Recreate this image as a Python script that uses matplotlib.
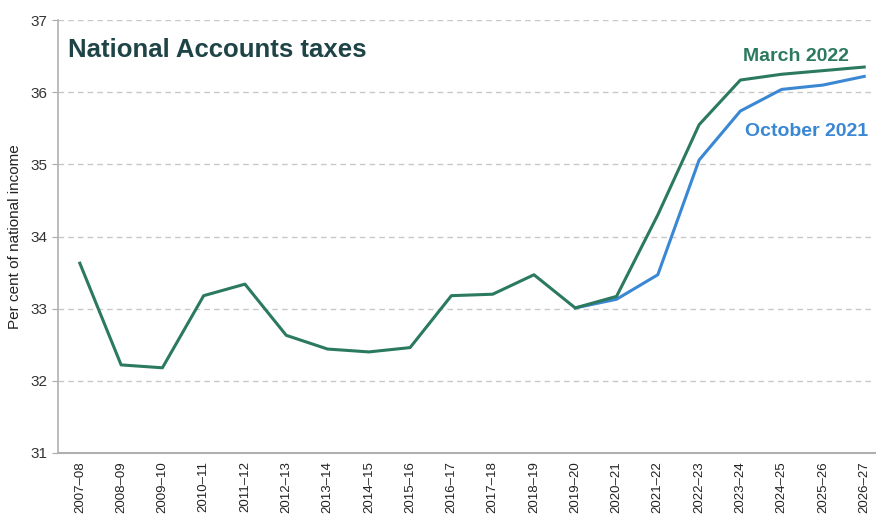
import matplotlib
matplotlib.use("Agg")
import matplotlib.pyplot as plt

plt.rcParams['font.family'] = ['Liberation Sans', 'DejaVu Sans']

years = ["2007\u201308", "2008\u201309", "2009\u201310", "2010\u201311", "2011\u201312",
         "2012\u201313", "2013\u201314", "2014\u201315", "2015\u201316", "2016\u201317",
         "2017\u201318", "2018\u201319", "2019\u201320", "2020\u201321", "2021\u201322",
         "2022\u201323", "2023\u201324", "2024\u201325", "2025\u201326", "2026\u201327"]

march_2022 = [33.63, 32.22, 32.18, 33.18, 33.34, 32.63, 32.44, 32.40, 32.46, 33.18,
              33.20, 33.47, 33.01, 33.17, 34.30, 35.55, 36.17, 36.25, 36.30, 36.35]
october_2021 = [None] * 12 + [33.01, 33.13, 33.47, 35.06, 35.74, 36.04, 36.10, 36.22]

green = "#2b7a5f"
blue = "#3a87d4"

fig = plt.figure(figsize=(8.78, 5.17), dpi=100)
ax = fig.add_axes([0.066, 0.124, 0.931, 0.837])

x = list(range(len(years)))
ox = [i for i, v in zip(x, october_2021) if v is not None]
oy = [v for v in october_2021 if v is not None]

ax.plot(ox, oy, color=blue, lw=2.2, zorder=3)
ax.plot(x, march_2022, color=green, lw=2.2, zorder=4)

ax.set_ylim(31, 37)
ax.set_xlim(-0.53, 19.27)
ax.set_yticks(range(31, 38))
ax.set_xticks(x)
ax.set_xticklabels(years, rotation=90, fontsize=9.5, color="#222222")
ax.tick_params(axis="y", labelsize=11, colors="#333333", length=4, color="#aaaaaa")
ax.tick_params(axis="x", length=0, pad=6)

ax.grid(axis="y", linestyle=(0, (4, 3)), color="#c8c8c8", lw=1)
ax.set_axisbelow(True)
for s in ["top", "right"]:
    ax.spines[s].set_visible(False)
ax.spines["left"].set_color("#b0b0b0")
ax.spines["bottom"].set_color("#b0b0b0")
ax.spines["left"].set_linewidth(1.2)
ax.spines["bottom"].set_linewidth(1.5)

ax.set_ylabel("Per cent of national income", fontsize=11, color="#222222", labelpad=6)

ax.text(0.012, 0.932, "National Accounts taxes", transform=ax.transAxes,
        fontsize=18.5, fontweight="bold", color="#1f4447", va="center", ha="left")
ax.text(16.07, 36.5, "March 2022", fontsize=14, fontweight="bold", color=green,
        ha="left", va="center")
ax.text(16.12, 35.45, "October 2021", fontsize=14, fontweight="bold", color=blue,
        ha="left", va="center")

fig.savefig("out.png", dpi=100)
